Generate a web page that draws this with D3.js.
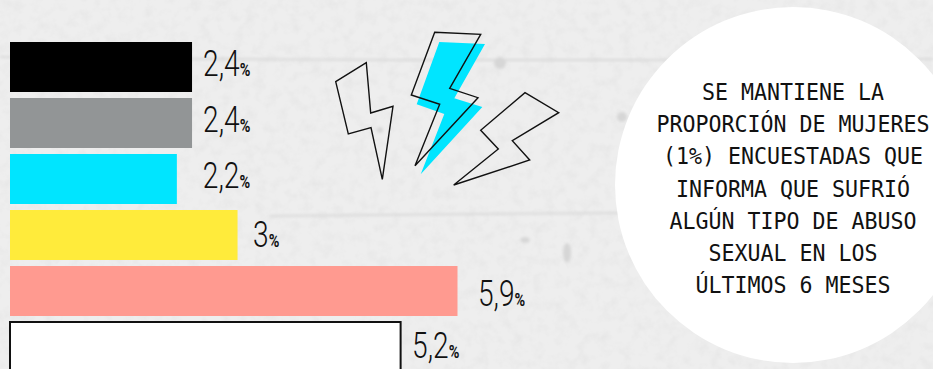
<!DOCTYPE html>
<html>
<head>
<meta charset="utf-8">
<script src="https://cdn.jsdelivr.net/npm/d3@7"></script>
<style>
html, body { margin: 0; padding: 0; background: #ececec; overflow: hidden; }
</style>
</head>
<body>
<div id="chart"></div>
<script>
// data
var categories = ["a", "b", "c", "d", "e", "f"];
var values = [2.4, 2.4, 2.2, 3, 5.9, 5.15];
var labels = ["2,4", "2,4", "2,2", "3", "5,9", "5,2"];
var colors = ["#000000", "#929596", "#00e5ff", "#ffeb3b", "#ff9a90", "#ffffff"];
var noteLines = [
  "SE MANTIENE LA",
  "PROPORCIÓN DE MUJERES",
  "(1%) ENCUESTADAS QUE",
  "INFORMA QUE SUFRIÓ",
  "ALGÚN TIPO DE ABUSO",
  "SEXUAL EN LOS",
  "ÚLTIMOS 6 MESES"
];

// the three lightning bolts, not data
var bolt1 = [[366.3,62.7],[335.7,81.7],[348.3,134],[371,127.7],[382.3,179.3],[393,106.3],[370.7,113]];
var bolt2 = [[434.7,32.3],[480.7,34.3],[449.7,88.3],[478,97.7],[415,165.7],[439.7,104.3],[411.3,95]];
var bolt2Fill = [[439.3,42],[485,44],[454.3,98.3],[482.3,107],[420.7,174.3],[444.3,114],[416.7,104.3]];
var bolt3 = [[525,92.7],[558.7,112.7],[512.3,140.7],[529.7,160],[453.7,185],[498.3,149],[480.7,130.3]];

// wall texture, not data
var mortar = [
  [[0,57],[200,59],[400,60],[640,60],[933,59]],
  [[270,216],[480,214],[620,213]]
];
var stains = [[500,63,6,6],[622,117,5,5],[567,253,4,10],[525,240,5,3],[338,340,7,3],[380,130,3,3]];

var width = 933, height = 369;

var svg = d3.select("#chart")
  .append("svg")
  .attr("width", width)
  .attr("height", height)
  .style("display", "block");

var defs = svg.append("defs");

var paper = defs.append("filter").attr("id", "paper")
  .attr("x", 0).attr("y", 0).attr("width", "100%").attr("height", "100%");
paper.append("feTurbulence")
  .attr("type", "fractalNoise")
  .attr("baseFrequency", 0.09)
  .attr("numOctaves", 4)
  .attr("seed", 8);
paper.append("feColorMatrix")
  .attr("values", "0 0 0 0 0.6  0 0 0 0 0.6  0 0 0 0 0.6  0.4 0 0 0 -0.17");

defs.append("filter").attr("id", "soft")
  .append("feGaussianBlur").attr("stdDeviation", 1.4);

// background
svg.append("rect").attr("width", width).attr("height", height).attr("fill", "#eeeeee");
svg.append("rect").attr("width", width).attr("height", height).attr("filter", "url(#paper)");

var wall = svg.append("g").attr("filter", "url(#soft)");

wall.selectAll("path")
  .data(mortar)
  .join("path")
  .attr("d", d3.line())
  .attr("fill", "none")
  .attr("stroke", "#d8d8d8")
  .attr("stroke-width", 2);

wall.selectAll("ellipse")
  .data(stains)
  .join("ellipse")
  .attr("cx", d => d[0])
  .attr("cy", d => d[1])
  .attr("rx", d => d[2])
  .attr("ry", d => d[3])
  .attr("fill", "#d6d6d6");

// bars
var x = d3.scaleLinear()
  .domain([0, 5.9])
  .range([10, 457.5]);

var y = d3.scaleBand()
  .domain(categories)
  .range([42, 372])
  .paddingInner(6 / 56);

svg.append("g")
  .selectAll("rect")
  .data(categories)
  .join("rect")
  .attr("x", x(0))
  .attr("y", d => y(d))
  .attr("width", (d, i) => x(values[i]) - x(0))
  .attr("height", y.bandwidth())
  .attr("fill", (d, i) => colors[i])
  .attr("stroke", (d, i) => colors[i] == "#ffffff" ? "#111" : "none")
  .attr("stroke-width", 2);

// value labels, squeezed sideways to get the condensed look
var labelDx = [11, 11, 26, 15.5, 20.5, 11.5];
var labelDy = [34, 34, 34, 37, 40, 36];

var lab = svg.append("g")
  .selectAll("g")
  .data(categories)
  .join("g")
  .attr("transform", (d, i) => "translate(" + (x(values[i]) + labelDx[i]) + "," + (y(d) + labelDy[i]) + ") scale(0.76,1)");

lab.append("text")
  .attr("font-family", "Roboto")
  .attr("font-weight", 300)
  .attr("font-size", 37)
  .attr("fill", "#111")
  .text((d, i) => labels[i])
  .append("tspan")
  .attr("font-size", 19)
  .attr("font-weight", 700)
  .text("%");

// bolts
var boltLine = d3.line().curve(d3.curveLinearClosed);

svg.append("path").attr("d", boltLine(bolt2Fill)).attr("fill", "#00e5ff");

svg.append("g")
  .selectAll("path")
  .data([bolt1, bolt2, bolt3])
  .join("path")
  .attr("d", boltLine)
  .attr("fill", "none")
  .attr("stroke", "#111")
  .attr("stroke-width", 1.4)
  .attr("stroke-linejoin", "miter");

// circle with the note
svg.append("circle")
  .attr("cx", 793)
  .attr("cy", 185)
  .attr("r", 178)
  .attr("fill", "#fff");

var lineY = d3.scalePoint()
  .domain(d3.range(noteLines.length))
  .range([100, 293]);

svg.append("g")
  .selectAll("text")
  .data(noteLines)
  .join("text")
  .attr("transform", (d, i) => "translate(793," + lineY(i) + ") scale(0.94,1)")
  .attr("text-anchor", "middle")
  .attr("font-family", "'DejaVu Sans Mono'")
  .attr("font-size", 23)
  .attr("fill", "#111")
  .text(d => d);
</script>
</body>
</html>
